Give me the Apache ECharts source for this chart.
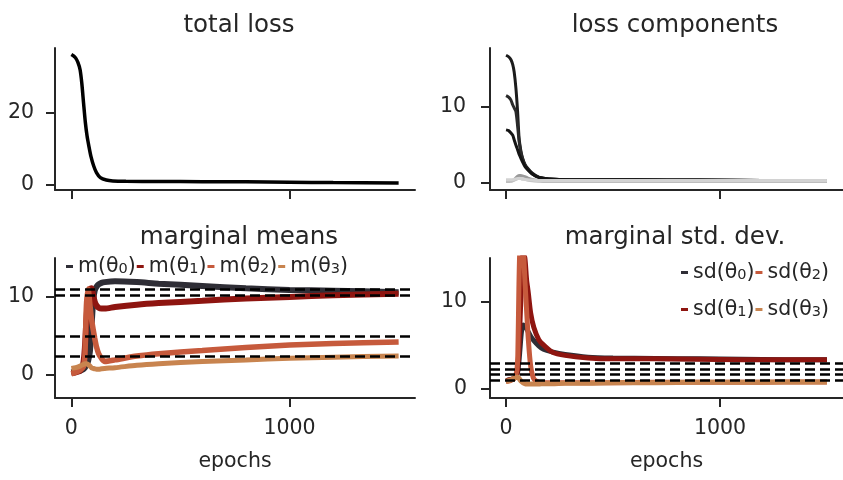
<!DOCTYPE html>
<html>
<head>
<meta charset="utf-8">
<script src="https://cdn.jsdelivr.net/npm/echarts@6/dist/echarts.min.js"></script>
<style>
html,body{margin:0;padding:0;background:#fff;}
#c{width:843px;height:480px;}
</style>
</head>
<body>
<div id="c"></div>
<script>
// ---- data ----
const xTicks = [0, 1000];

const epochsTotal = [0, 10, 20, 30, 40, 48, 56, 64, 72, 80, 90, 102, 115, 133, 160, 190, 250, 400, 600, 800, 1000, 1200, 1500];
const totalLoss   = [36.0, 35.6, 35.0, 33.8, 31.8, 28.0, 22.5, 17.3, 13.5, 10.8, 7.8, 5.3, 3.4, 2.0, 1.35, 1.1, 1.0, 0.95, 0.9, 0.85, 0.75, 0.65, 0.55];
const totalTicks  = [0, 20];

const epochsComp = [0, 12, 23, 31, 38, 46, 54, 61, 69, 77, 88, 100, 123, 153, 200, 300, 600, 900, 1200, 1500];
const compA = [16.8, 16.6, 16.2, 15.6, 14.6, 12.5, 9.4, 5.9, 4.3, 3.3, 2.5, 2.0, 1.3, 0.8, 0.55, 0.45, 0.45, 0.4, 0.35, 0.3];
const compB = [11.5, 11.3, 10.9, 10.3, 9.9, 9.4, 7.5, 5.5, 4.1, 3.2, 2.4, 1.9, 1.2, 0.75, 0.55, 0.45, 0.45, 0.4, 0.35, 0.3];
const compC = [7.0, 6.9, 6.6, 6.3, 5.7, 5.0, 4.4, 3.8, 3.3, 2.8, 2.2, 1.8, 1.2, 0.75, 0.55, 0.45, 0.45, 0.4, 0.35, 0.3];
const compD = [0.3, 0.3, 0.3, 0.35, 0.5, 0.7, 0.9, 1.0, 1.0, 0.95, 0.85, 0.7, 0.5, 0.35, 0.3, 0.3, 0.3, 0.3, 0.3, 0.3];
const compE = [0.2, 0.2, 0.25, 0.3, 0.4, 0.5, 0.6, 0.65, 0.6, 0.55, 0.5, 0.4, 0.3, 0.25, 0.2, 0.2, 0.2, 0.2, 0.2, 0.2];
const compF = [0.45, 0.45, 0.45, 0.45, 0.5, 0.55, 0.6, 0.6, 0.6, 0.55, 0.5, 0.45, 0.4, 0.35, 0.35, 0.35, 0.35, 0.35, 0.35, 0.35];
const compTicks = [0, 10];

const epochsMean = [0, 20, 40, 55, 62, 69, 77, 85, 92, 100, 107, 115, 125, 138, 153, 200, 300, 400, 600, 800, 1000, 1200, 1500];
const meanTheta0 = [0.3, 0.4, 0.5, 0.7, 0.9, 1.2, 1.8, 3.0, 6.0, 9.5, 10.8, 11.3, 11.6, 11.8, 11.9, 12.0, 11.9, 11.7, 11.4, 11.1, 10.9, 10.8, 10.6];
const meanTheta1 = [0.2, 0.3, 0.5, 1.5, 3.5, 7.0, 10.0, 11.0, 11.1, 10.2, 9.4, 8.9, 8.6, 8.5, 8.5, 8.7, 9.0, 9.2, 9.5, 9.8, 10.0, 10.2, 10.4];
const meanTheta2 = [0.1, 0.3, 0.6, 1.0, 2.5, 8.9, 11.0, 9.0, 7.2, 5.8, 4.7, 3.6, 2.7, 2.1, 1.7, 1.9, 2.4, 2.7, 3.1, 3.5, 3.8, 4.0, 4.2];
const meanTheta3 = [0.8, 0.9, 1.1, 1.3, 1.4, 1.4, 1.3, 1.1, 0.9, 0.8, 0.75, 0.7, 0.7, 0.75, 0.8, 0.9, 1.2, 1.4, 1.7, 1.9, 2.1, 2.25, 2.4];
const trueMeans  = [11.0, 10.2, 4.9, 2.4];
const meanTicks  = [0, 10];

const epochsSd = [0, 20, 40, 50, 55, 60, 65, 72, 80, 88, 96, 104, 115, 130, 153, 175, 215, 276, 383, 500, 700, 900, 1100, 1300, 1500];
const sdTheta0 = [0.9, 1.0, 1.2, 1.5, 2.0, 3.0, 4.5, 6.5, 7.3, 7.2, 6.9, 6.5, 6.0, 5.5, 4.9, 4.5, 4.2, 3.9, 3.6, 3.5, 3.45, 3.4, 3.35, 3.3, 3.3];
const sdTheta1 = [0.9, 1.0, 1.2, 1.6, 2.5, 4.5, 7.5, 12.0, 15.5, 15.0, 12.5, 11.0, 8.7, 7.0, 5.6, 5.0, 4.2, 3.8, 3.5, 3.4, 3.4, 3.35, 3.3, 3.3, 3.3];
const sdTheta2 = [0.8, 0.9, 1.2, 2.0, 3.8, 11.5, 16.5, 18.0, 16.5, 12.5, 9.0, 5.7, 2.6, 1.1, 0.7, 0.65, 0.65, 0.65, 0.65, 0.65, 0.7, 0.7, 0.7, 0.75, 0.75];
const sdTheta3 = [0.8, 0.95, 1.2, 1.3, 1.3, 1.2, 1.0, 0.8, 0.65, 0.55, 0.5, 0.5, 0.5, 0.5, 0.5, 0.55, 0.55, 0.6, 0.6, 0.65, 0.65, 0.7, 0.7, 0.75, 0.75];
const trueSds  = [2.95, 2.25, 1.6, 0.92];
const sdTicks  = [0, 10];

const meanNames = ['m(θ0)', 'm(θ1)', 'm(θ2)', 'm(θ3)'];
const sdNames   = ['sd(θ0)', 'sd(θ1)', 'sd(θ2)', 'sd(θ3)'];

// ---- styling ----
const FONT = 'DejaVu Sans';
const TXT = '#262626';
const AX = '#262626';
const thetaColors = ['#2f2e36', '#8e1510', '#c65a3c', '#c8844f'];
const compColors = ['#1c1c1c', '#2a2a2a', '#141414', '#9a9a9a', '#bdbdbd', '#d2d2d2'];

const zip = (xs, ys) => xs.map((x, i) => [x, ys[i]]);

function xAxis(gi, showLabels) {
  return {
    type: 'value', gridIndex: gi, min: -75, max: 1575,
    splitLine: {show: false},
    axisLine: {onZero: false, lineStyle: {color: AX, width: 2}},
    axisTick: {show: true, length: 9, lineStyle: {color: AX, width: 2}, customValues: xTicks},
    axisLabel: {show: showLabels, customValues: xTicks, formatter: v => String(v),
                fontFamily: FONT, fontSize: 20.5, color: TXT, margin: 20},
    name: showLabels ? 'epochs' : '', nameLocation: 'middle', nameGap: 53,
    nameTextStyle: {fontFamily: FONT, fontSize: 20.5, color: TXT}
  };
}
function yAxis(gi, min, max, ticks, margin) {
  return {
    type: 'value', gridIndex: gi, min: min, max: max,
    splitLine: {show: false},
    axisLine: {show: true, onZero: false, lineStyle: {color: AX, width: 2}},
    axisTick: {show: true, length: 9, lineStyle: {color: AX, width: 2}, customValues: ticks},
    axisLabel: {customValues: ticks, formatter: v => String(v),
                fontFamily: FONT, fontSize: 20.5, color: TXT, margin: margin}
  };
}
function line(name, xi, color, xs, ys, width, z) {
  return {
    type: 'line', name: name, xAxisIndex: xi, yAxisIndex: xi,
    data: zip(xs, ys), showSymbol: false, symbol: 'none', smooth: 0.25,
    lineStyle: {color: color, width: width}, itemStyle: {color: color},
    silent: true, z: z || 2, clip: true
  };
}
function dashes(xi, values) {
  return {
    type: 'line', xAxisIndex: xi, yAxisIndex: xi, data: [], silent: true, z: 10,
    markLine: {
      silent: true, symbol: ['none', 'none'], animation: false,
      label: {show: false},
      lineStyle: {color: '#000', width: 2.6, type: [10, 5]},
      emphasis: {disabled: true},
      data: values.map(v => ({yAxis: v}))
    }
  };
}

const titleStyle = {fontFamily: FONT, fontSize: 24.5, fontWeight: 'normal', color: TXT};
const legendText = {
  fontFamily: FONT, fontSize: 20.5, color: TXT,
  rich: {
    b: {fontFamily: FONT, fontSize: 20.5, color: TXT, lineHeight: 21, verticalAlign: 'top'},
    s: {fontFamily: FONT, fontSize: 14.5, color: TXT, lineHeight: 8, verticalAlign: 'bottom'}
  }
};
const subFormatter = name => name.replace(/^(.*θ)(\d)\)$/, '{b|$1}{s|$2}{b|)}');

function legend(names, left, top) {
  return {data: names, left: left, top: top, orient: 'horizontal', icon: 'rect',
          itemWidth: 7, itemHeight: 3, itemGap: 1, textStyle: legendText,
          formatter: subFormatter, selectedMode: false};
}

const option = {
  animation: false,
  backgroundColor: '#fff',
  title: [
    {text: 'total loss', left: 234, top: 8, textAlign: 'center', textStyle: titleStyle},
    {text: 'loss components', left: 670, top: 8, textAlign: 'center', textStyle: titleStyle},
    {text: 'marginal means', left: 234, top: 220, textAlign: 'center', textStyle: titleStyle},
    {text: 'marginal std. dev.', left: 670, top: 220, textAlign: 'center', textStyle: titleStyle}
  ],
  grid: [
    {left: 55, top: 48, width: 360, height: 142},
    {left: 490, top: 48, width: 359, height: 142},
    {left: 55, top: 258, width: 360, height: 140},
    {left: 490, top: 258, width: 359, height: 140}
  ],
  xAxis: [xAxis(0, false), xAxis(1, false), xAxis(2, true), xAxis(3, true)],
  yAxis: [
    yAxis(0, -1.4, 37.8, totalTicks, 21),
    yAxis(1, -0.9, 17.75, compTicks, 24),
    yAxis(2, -3, 15, meanTicks, 21),
    yAxis(3, -1.1, 15, sdTicks, 23)
  ],
  legend: [
    legend(meanNames, 61, 251),
    legend([sdNames[0], sdNames[2]], 676, 257),
    legend([sdNames[1], sdNames[3]], 676, 294)
  ],
  series: [
    line('total', 0, '#000', epochsTotal, totalLoss, 3.5),

    line('cA', 1, compColors[0], epochsComp, compA, 3),
    line('cB', 1, compColors[1], epochsComp, compB, 3),
    line('cC', 1, compColors[2], epochsComp, compC, 3),
    line('cD', 1, compColors[3], epochsComp, compD, 3),
    line('cE', 1, compColors[4], epochsComp, compE, 3),
    line('cF', 1, compColors[5], epochsComp, compF, 3),

    line(meanNames[0], 2, thetaColors[0], epochsMean, meanTheta0, 6),
    line(meanNames[1], 2, thetaColors[1], epochsMean, meanTheta1, 6),
    line(meanNames[2], 2, thetaColors[2], epochsMean, meanTheta2, 5.5),
    line(meanNames[3], 2, thetaColors[3], epochsMean, meanTheta3, 5),
    dashes(2, trueMeans),

    line(sdNames[0], 3, thetaColors[0], epochsSd, sdTheta0, 5),
    line(sdNames[1], 3, thetaColors[1], epochsSd, sdTheta1, 5),
    line(sdNames[2], 3, thetaColors[2], epochsSd, sdTheta2, 5),
    line(sdNames[3], 3, thetaColors[3], epochsSd, sdTheta3, 5),
    dashes(3, trueSds)
  ]
};

const chart = echarts.init(document.getElementById('c'), null, {renderer: 'canvas'});
chart.setOption(option);
</script>
</body>
</html>
